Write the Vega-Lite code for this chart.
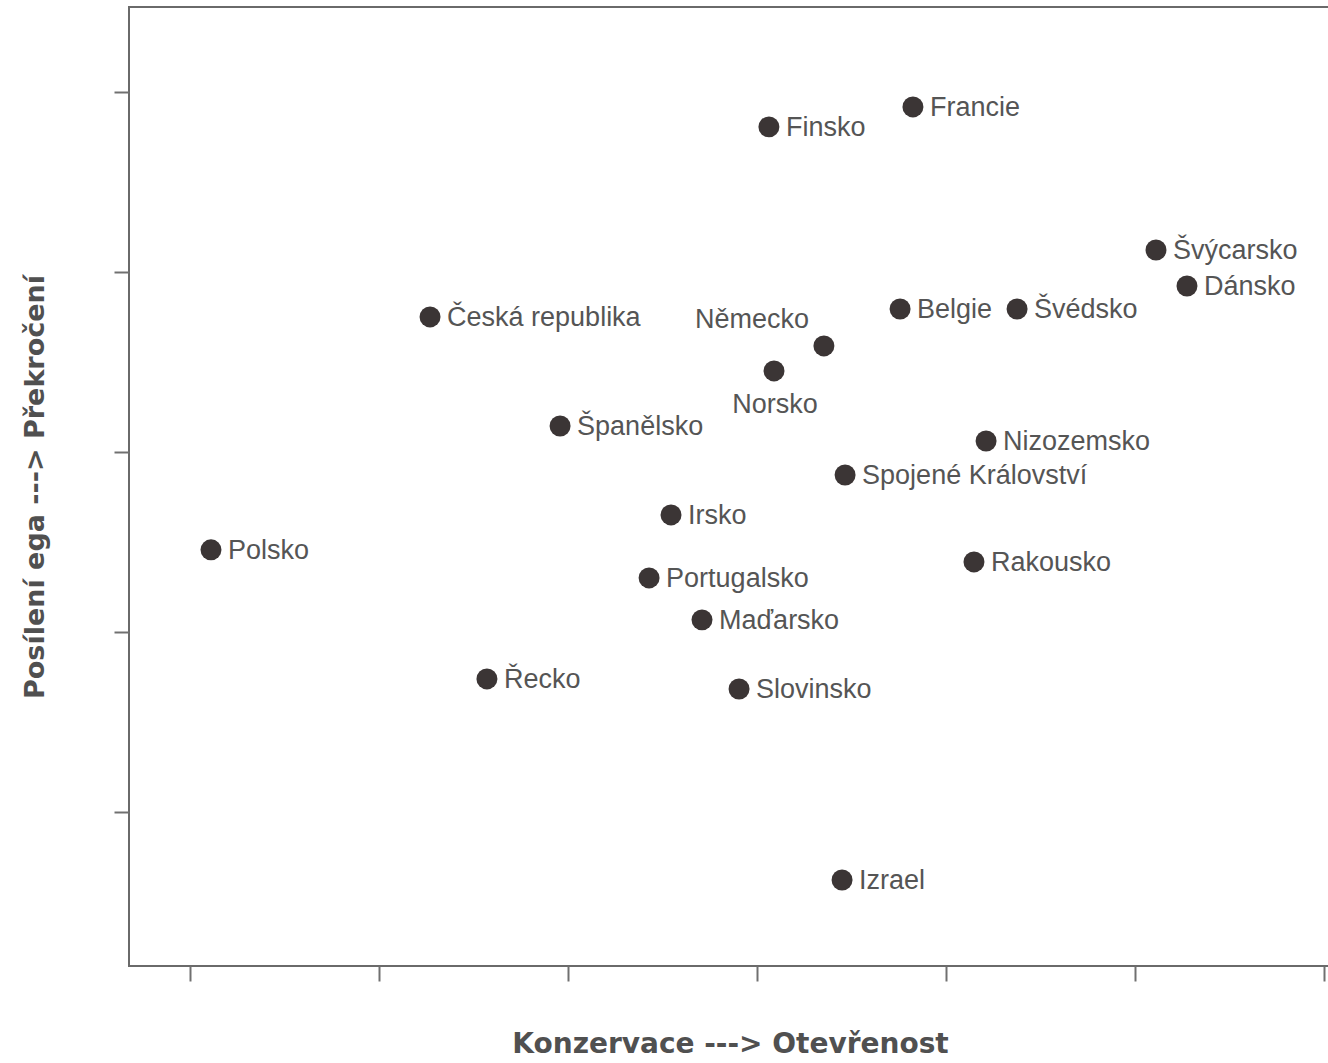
{
  "$schema": "https://vega.github.io/schema/vega-lite/v6.json",
  "autosize": "none",
  "width": 1202,
  "height": 959,
  "padding": {"left": 129, "top": 7, "right": 0, "bottom": 97},
  "background": "white",
  "view": {"stroke": "#6a6a6a", "strokeWidth": 2},
  "data": {
    "values": [
      {"country": "Finsko", "x": 3.063, "y": 3.806},
      {"country": "Francie", "x": 3.825, "y": 3.917},
      {"country": "Švýcarsko", "x": 5.111, "y": 3.122},
      {"country": "Dánsko", "x": 5.275, "y": 2.922},
      {"country": "Česká republika", "x": 1.270, "y": 2.750},
      {"country": "Belgie", "x": 3.757, "y": 2.794},
      {"country": "Švédsko", "x": 4.376, "y": 2.794},
      {"country": "Německo", "x": 3.354, "y": 2.589},
      {"country": "Norsko", "x": 3.090, "y": 2.450},
      {"country": "Španělsko", "x": 1.958, "y": 2.144},
      {"country": "Nizozemsko", "x": 4.212, "y": 2.061},
      {"country": "Spojené Království", "x": 3.466, "y": 1.872},
      {"country": "Irsko", "x": 2.545, "y": 1.650},
      {"country": "Polsko", "x": 0.111, "y": 1.456},
      {"country": "Rakousko", "x": 4.148, "y": 1.389},
      {"country": "Portugalsko", "x": 2.429, "y": 1.300},
      {"country": "Maďarsko", "x": 2.709, "y": 1.067},
      {"country": "Řecko", "x": 1.571, "y": 0.739},
      {"country": "Slovinsko", "x": 2.905, "y": 0.683},
      {"country": "Izrael", "x": 3.450, "y": -0.378}
    ]
  },
  "encoding": {
    "x": {
      "field": "x", "type": "quantitative",
      "scale": {"domain": [-0.3228, 6.037], "nice": false, "zero": false},
      "axis": {
        "values": [0, 1, 2, 3, 4, 5, 6], "labels": false, "domain": false, "grid": false,
        "tickSize": 15, "tickWidth": 2, "tickColor": "#707070",
        "title": "Konzervace ---> Otevřenost", "titleFont": "DejaVu Sans", "titleFontSize": 28,
        "titleFontWeight": "bold", "titleColor": "#505050", "titlePadding": 48
      }
    },
    "y": {
      "field": "y", "type": "quantitative",
      "scale": {"domain": [-0.856, 4.472], "nice": false, "zero": false},
      "axis": {
        "values": [0, 1, 2, 3, 4], "labels": false, "domain": false, "grid": false,
        "tickSize": 15, "tickWidth": 2, "tickColor": "#707070",
        "title": "Posílení ega ---> Překročení", "titleFont": "DejaVu Sans", "titleFontSize": 27,
        "titleFontWeight": "bold", "titleColor": "#505050", "titlePadding": 64
      }
    }
  },
  "layer": [
    {
      "mark": {"type": "circle", "size": 440, "color": "#3b3535", "opacity": 1}
    },
    {
      "transform": [{"filter": "datum.country != 'Německo' && datum.country != 'Norsko'"}],
      "mark": {"type": "text", "align": "left", "baseline": "middle", "dx": 17, "dy": 1, "font": "Liberation Sans", "fontSize": 27, "color": "#555555"},
      "encoding": {"text": {"field": "country"}}
    },
    {
      "transform": [{"filter": "datum.country == 'Německo'"}],
      "mark": {"type": "text", "align": "center", "baseline": "middle", "dx": -72, "dy": -26, "font": "Liberation Sans", "fontSize": 27, "color": "#555555"},
      "encoding": {"text": {"field": "country"}}
    },
    {
      "transform": [{"filter": "datum.country == 'Norsko'"}],
      "mark": {"type": "text", "align": "center", "baseline": "middle", "dx": 1, "dy": 34, "font": "Liberation Sans", "fontSize": 27, "color": "#555555"},
      "encoding": {"text": {"field": "country"}}
    }
  ]
}
